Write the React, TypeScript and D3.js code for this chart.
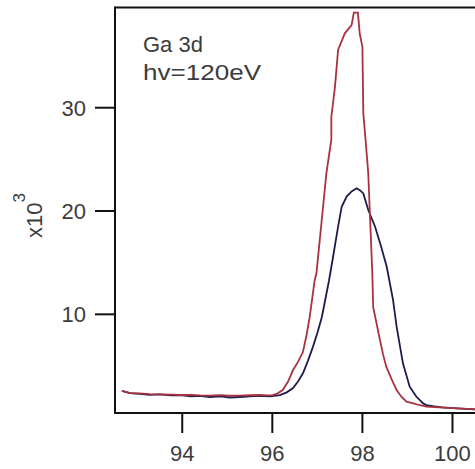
import React from "react";
import * as d3 from "d3";

const xTicks = [94, 96, 98, 100];
const yTicks = [10, 20, 30];
const title1 = "Ga 3d";
const title2 = "hv=120eV";

// Red series (x in eV, y in x10^3)
const redX = [92.66, 92.84, 93.05, 93.28, 93.5, 93.75, 93.95, 94.2, 94.4, 94.61, 94.85, 95.05, 95.28, 95.5, 95.72, 95.9, 96.01, 96.12, 96.23, 96.35, 96.46, 96.57, 96.68, 96.76, 96.83, 96.94, 96.98, 97.09, 97.2, 97.31, 97.31, 97.39, 97.46, 97.61, 97.76, 97.81, 97.9, 97.94, 98.0, 98.02, 98.07, 98.13, 98.16, 98.22, 98.24, 98.32, 98.39, 98.46, 98.53, 98.65, 98.76, 98.87, 98.98, 99.13, 99.28, 99.42, 99.7, 100.01, 100.3, 100.5];
const redY = [2.6, 2.38, 2.35, 2.28, 2.25, 2.22, 2.19, 2.2, 2.15, 2.14, 2.18, 2.12, 2.14, 2.17, 2.19, 2.15, 2.19, 2.35, 2.67, 3.5, 4.61, 5.4, 6.35, 8.0, 9.74, 13.3, 13.97, 18.8, 23.65, 26.9, 29.1, 32.0, 35.6, 37.2, 38.0, 39.2, 39.2, 37.2, 35.9, 29.5, 26.9, 23.65, 20.4, 13.97, 10.7, 9.0, 7.5, 6.1, 4.93, 3.7, 2.67, 2.0, 1.54, 1.38, 1.2, 1.06, 1.0, 0.93, 0.85, 0.8];

// Blue series
const blueX = [92.66, 92.84, 93.05, 93.28, 93.5, 93.75, 93.95, 94.2, 94.4, 94.61, 94.85, 95.05, 95.28, 95.5, 95.72, 95.95, 96.17, 96.32, 96.46, 96.57, 96.68, 96.79, 96.9, 97.0, 97.1, 97.26, 97.35, 97.46, 97.54, 97.65, 97.76, 97.87, 97.95, 98.02, 98.13, 98.28, 98.42, 98.54, 98.68, 98.76, 98.9, 99.05, 99.2, 99.35, 99.42, 99.6, 99.78, 100.1, 100.5];
const blueY = [2.6, 2.38, 2.3, 2.2, 2.25, 2.15, 2.19, 2.05, 2.1, 2.0, 2.05, 1.95, 2.0, 2.05, 2.1, 2.05, 2.19, 2.45, 2.87, 3.5, 4.3, 5.5, 6.83, 8.2, 9.74, 13.3, 15.6, 18.5, 20.4, 21.4, 21.9, 22.2, 22.0, 21.7, 20.1, 18.5, 16.5, 14.6, 11.4, 8.8, 5.26, 3.0, 2.02, 1.38, 1.22, 1.1, 1.0, 0.9, 0.8];

const W = 475;
const H = 469;
const left = 115;
const right = 475;
const top = 7.5;
const bottom = 413;

export default function App() {
  const x = d3.scaleLinear().domain([92.507, 100.5]).range([left, right]);
  const y = d3.scaleLinear().domain([0.45, 39.7]).range([bottom, top]);
  const line = d3
    .line<[number, number]>()
    .x((d) => x(d[0]))
    .y((d) => y(d[1]))
    .curve(d3.curveLinear);
  const red = redX.map((v, i) => [v, redY[i]] as [number, number]);
  const blue = blueX.map((v, i) => [v, blueY[i]] as [number, number]);
  const font = "'Liberation Sans', Arial, sans-serif";
  const txt = "#3c3c3c";
  return (
    <svg
      width={W}
      height={H}
      style={{ position: "absolute", left: 0, top: 0, background: "#fff" }}
      fontFamily={font}
    >
      <rect x={0} y={0} width={W} height={H} fill="#fff" />
      <path d={line(blue) || ""} fill="none" stroke="#1c1c4e" strokeWidth={1.8} />
      <path d={line(red) || ""} fill="none" stroke="#a8323e" strokeWidth={1.8} />
      {/* frame */}
      <line x1={left} y1={top} x2={W} y2={top} stroke="#111" strokeWidth={2} />
      <line x1={left} y1={top - 1} x2={left} y2={bottom + 1} stroke="#111" strokeWidth={2} />
      <line x1={left - 1} y1={bottom} x2={W} y2={bottom} stroke="#111" strokeWidth={2} />
      {yTicks.map((t) => (
        <g key={"y" + t}>
          <line x1={left - 20} x2={left} y1={y(t)} y2={y(t)} stroke="#111" strokeWidth={2} />
          <text x={86} y={y(t)} dy="0.36em" textAnchor="end" fontSize={22} fill={txt}>
            {t}
          </text>
        </g>
      ))}
      {xTicks.map((t) => (
        <g key={"x" + t}>
          <line x1={x(t)} x2={x(t)} y1={bottom} y2={bottom + 20} stroke="#111" strokeWidth={2} />
          <text x={x(t)} y={461} textAnchor="middle" fontSize={22} fill={txt}>
            {t}
          </text>
        </g>
      ))}
      <text x={143} y={52} fontSize={22} fill={txt}>
        {title1}
      </text>
      <text x={143} y={80} fontSize={22} fill={txt} textLength={118} lengthAdjust="spacingAndGlyphs">
        {title2}
      </text>
      <text transform="translate(42,238) rotate(-90)" fontSize={22} fill={txt}>
        x10
        <tspan dy={-17} fontSize={17}>
          3
        </tspan>
      </text>
    </svg>
  );
}
